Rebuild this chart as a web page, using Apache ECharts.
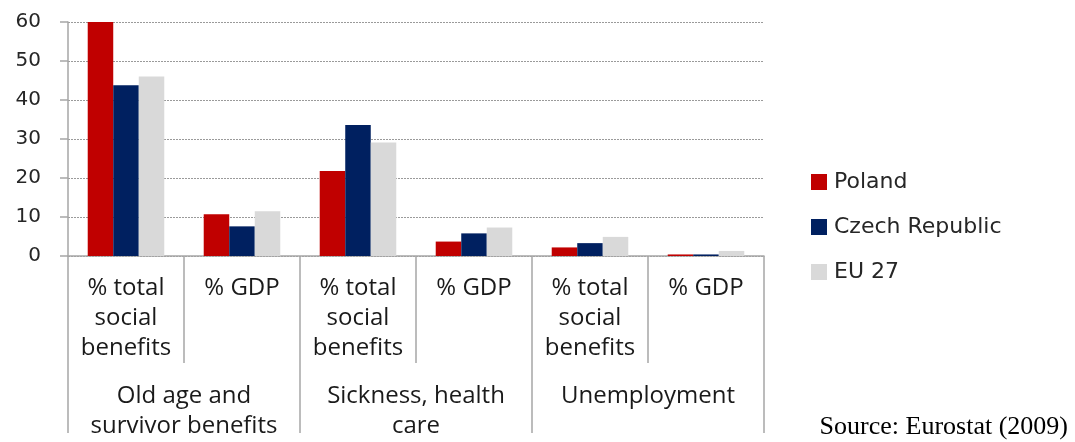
<!DOCTYPE html>
<html>
<head>
<meta charset="utf-8">
<script src="https://cdn.jsdelivr.net/npm/echarts@6/dist/echarts.min.js"></script>
<style>
  html, body { margin: 0; padding: 0; background: #fff; }
  #chart { width: 1075px; height: 442px; }
</style>
</head>
<body>
<div id="chart"></div>
<script>
// Sub-categories (inner axis row) and their groups (outer axis row)
const measures = [
  '% total\nsocial\nbenefits', '% GDP',
  '% total\nsocial\nbenefits', '% GDP',
  '% total\nsocial\nbenefits', '% GDP'
];
const groups = ['Old age and\nsurvivor benefits', 'Sickness, health\ncare', 'Unemployment'];

// Expenditure shares by country
const poland = [60.0, 10.7, 21.8, 3.7, 2.2, 0.4];
const czech  = [43.8, 7.6, 33.6, 5.8, 3.3, 0.4];
const eu27   = [46.0, 11.5, 29.1, 7.3, 4.9, 1.3];

const seriesNames = ['Poland', 'Czech Republic', 'EU 27'];
const seriesColors = ['#C00000', '#002060', '#D9D9D9'];
const yTicks = { min: 0, max: 60, interval: 10 };

const chart = echarts.init(document.getElementById('chart'), null, { renderer: 'canvas' });

const axisGrey = '#A6A6A6';
const catFont = '"Open Sans", sans-serif';

const option = {
  animation: false,
  backgroundColor: '#ffffff',
  grid: { left: 68, right: 311, top: 22, bottom: 186, containLabel: false },
  legend: {
    orient: 'vertical',
    left: 811,
    top: 171,
    padding: 0,
    itemWidth: 16,
    itemHeight: 16,
    itemGap: 23,
    icon: 'rect',
    data: seriesNames,
    textStyle: { fontFamily: '"DejaVu Sans", sans-serif', fontSize: 22, color: '#262626', padding: [0, 0, 0, 2] }
  },
  xAxis: [
    {
      type: 'category',
      data: measures,
      position: 'bottom',
      axisLine: { show: true, lineStyle: { color: axisGrey, width: 1.5 } },
      axisTick: { show: true, interval: 0, length: 107, lineStyle: { color: axisGrey, width: 1.5 } },
      axisLabel: {
        interval: 0,
        margin: 17,
        fontFamily: catFont,
        fontSize: 24,
        lineHeight: 30,
        color: '#1a1a1a'
      },
      splitLine: { show: false }
    },
    {
      type: 'category',
      data: groups,
      position: 'bottom',
      axisLine: { show: false },
      axisTick: { show: true, interval: 0, length: 177, lineStyle: { color: axisGrey, width: 1.5 } },
      axisLabel: {
        interval: 0,
        margin: 125,
        fontFamily: catFont,
        fontSize: 24,
        lineHeight: 30,
        color: '#1a1a1a'
      },
      splitLine: { show: false }
    }
  ],
  yAxis: {
    type: 'value',
    min: yTicks.min,
    max: yTicks.max,
    interval: yTicks.interval,
    axisLine: { show: true, lineStyle: { color: axisGrey, width: 1.5 } },
    axisTick: { show: true, length: 8, lineStyle: { color: axisGrey, width: 1.5 } },
    axisLabel: {
      margin: 27,
      fontFamily: '"DejaVu Sans", sans-serif',
      fontSize: 20,
      color: '#262626'
    },
    splitLine: { show: true, lineStyle: { color: '#9a9a9a', type: [2, 1], width: 1 } }
  },
  series: [
    { name: seriesNames[0], data: poland },
    { name: seriesNames[1], data: czech },
    { name: seriesNames[2], data: eu27 }
  ].map((s, i) => ({
    type: 'bar',
    name: s.name,
    data: s.data,
    xAxisIndex: 0,
    barGap: '0%',
    barCategoryGap: '34%',
    itemStyle: { color: seriesColors[i] }
  })),
  graphic: [
    {
      type: 'text',
      right: 7,
      top: 414,
      style: {
        text: 'Source: Eurostat (2009)',
        fontFamily: '"Liberation Serif", "Times New Roman", serif',
        fontSize: 26,
        fill: '#000'
      }
    }
  ]
};

chart.setOption(option);
</script>
</body>
</html>
